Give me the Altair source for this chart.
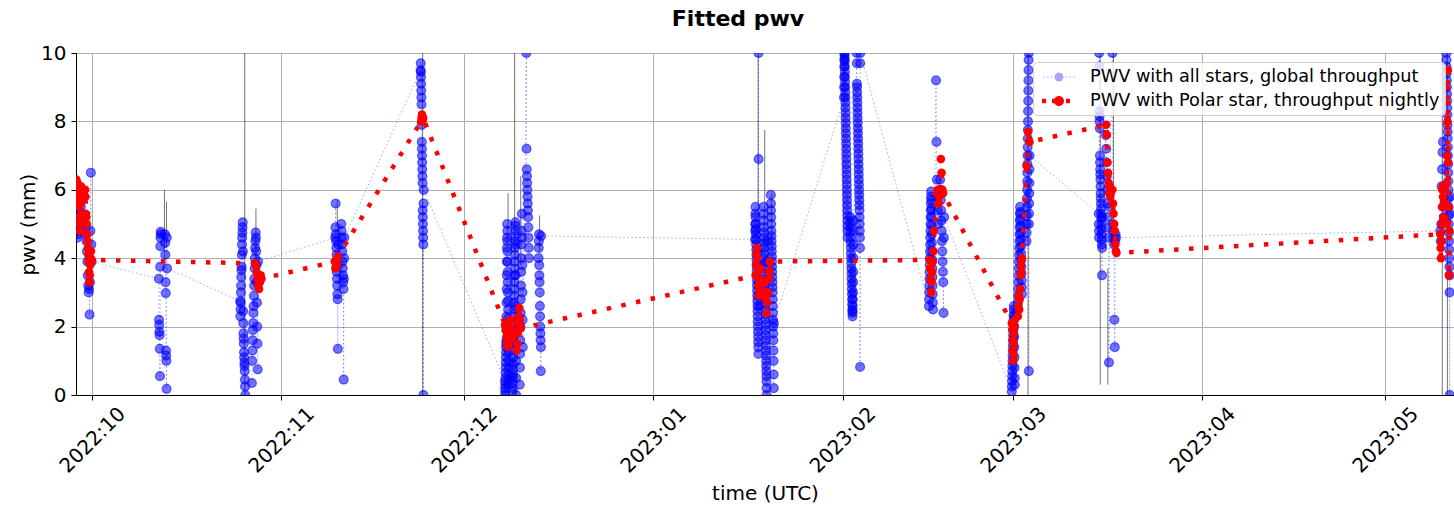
import altair as alt
import pandas as pd

# ---- series labels -------------------------------------------------------
blue_label = "PWV with all stars, global throughput"
red_label = "PWV with Polar star, throughput nightly"

# ---- x-axis months --------------------------------------------------------
month_ticks = [(2022, 10), (2022, 11), (2022, 12), (2023, 1),
               (2023, 2), (2023, 3), (2023, 4), (2023, 5)]

# ---- all stars, global throughput: nightly observing windows (UTC) -------
blue_start = ["2022-09-28T08:00", "2022-09-29T20:00", "2022-10-11T22:00", "2022-10-12T22:00",
              "2022-10-25T06:00", "2022-10-27T04:00", "2022-11-09T20:00", "2022-11-10T20:00",
              "2022-11-23T20:00", "2022-12-07T16:00", "2022-12-08T22:00", "2022-12-10T02:00",
              "2022-12-11T04:00", "2022-12-13T04:00", "2023-01-17T16:00", "2023-01-19T02:00",
              "2023-01-20T06:00", "2023-02-01T06:00", "2023-02-02T06:00", "2023-02-03T08:00",
              "2023-02-15T04:00", "2023-02-16T08:00", "2023-02-17T00:00", "2023-02-28T18:00",
              "2023-03-01T18:00", "2023-03-03T04:00", "2023-03-15T00:00", "2023-03-16T04:00",
              "2023-03-17T06:00", "2023-05-10T00:00", "2023-05-11T00:00"]
blue_end = ["2022-09-29T06:00", "2022-09-30T22:00", "2022-10-12T06:00", "2022-10-13T06:00",
            "2022-10-26T02:00", "2022-10-28T04:00", "2022-11-10T08:00", "2022-11-11T08:00",
            "2022-11-24T08:00", "2022-12-08T08:00", "2022-12-09T12:00", "2022-12-10T14:00",
            "2022-12-11T14:00", "2022-12-13T14:00", "2023-01-18T08:00", "2023-01-19T14:00",
            "2023-01-20T18:00", "2023-02-01T20:00", "2023-02-02T20:00", "2023-02-03T22:00",
            "2023-02-15T20:00", "2023-02-16T16:00", "2023-02-17T16:00", "2023-03-01T06:00",
            "2023-03-02T10:00", "2023-03-03T16:00", "2023-03-15T14:00", "2023-03-16T18:00",
            "2023-03-17T20:00", "2023-05-10T14:00", "2023-05-11T14:00"]

# pwv (mm) per night, in observing order
blue_n01 = [5.5, 5.3, 5.0, 4.8, 4.6, 4.7, 4.9, 5.1, 5.4, 5.6, 5.8, 5.9, 5.7, 5.5, 5.2, 5.0]
blue_n02 = [5.0, 4.9, 4.7, 4.5, 4.2, 3.9, 3.5, 3.2, 3.0, 3.1, 2.35, 3.3, 4.8, 6.5, 4.4, 3.9]
blue_n03 = [3.4, 2.2, 2.05, 1.85, 1.75, 1.35, 0.55, 3.75, 4.35, 4.6, 4.77, 4.7]
blue_n04 = [4.7, 4.45, 4.1, 3.3, 2.98, 1.3, 1.15, 1.0, 0.18, 4.6, 3.7]
blue_n05 = [2.75, 2.3, 2.5, 2.7, 3.0, 3.2, 3.45, 3.65, 3.75, 4.1, 4.4, 4.6, 4.75, 4.9, 5.05,
            4.2, 2.45, 2.1, 1.8, 1.65, 1.5, 1.25, 1.1, 0.95, 0.85, 0.7, 0.45, 0.25, 0.0]
blue_n06 = [0.35, 1.0, 1.3, 1.6, 1.9, 2.1, 2.4, 2.6, 2.9, 3.2, 3.4, 3.7, 4.0, 4.3, 4.5,
            4.75, 4.6, 4.2, 3.8, 3.3, 2.7, 2.0, 1.5, 0.75, 3.9]
blue_n07 = [4.6, 4.9, 5.6, 4.7, 4.5, 4.3, 4.1, 3.6, 3.4, 3.2, 2.95, 2.8, 1.35, 3.8, 4.4]
blue_n08 = [5.0, 4.8, 4.6, 4.4, 4.2, 3.9, 3.7, 3.5, 3.3, 3.1, 0.45, 3.4, 4.0, 4.6]
blue_n09 = [9.5, 9.7, 9.45, 9.3, 9.1, 8.9, 8.7, 8.5, 7.9, 7.4, 7.2, 7.0, 6.8, 6.6, 6.4,
            6.2, 5.4, 5.2, 5.0, 4.8, 4.6, 4.4, 0.0, 5.6, 6.0]
blue_n10 = [0.4, 0.2, 0.0, 0.1, 0.3, 0.5, 0.65, 0.8, 0.95, 1.1, 1.25, 1.4, 1.5, 1.6, 1.9,
            2.3, 2.7, 3.1, 3.5, 3.9, 4.3, 4.6, 5.0, 4.8, 4.5, 4.2, 3.9, 3.6, 3.3, 3.0,
            2.75, 2.5, 2.25, 2.0, 1.75, 1.5, 1.25, 1.0, 0.8, 0.6, 0.45, 0.3]
blue_n11 = [0.1, 0.2, 0.35, 0.5, 0.6, 0.75, 0.9, 1.1, 1.3, 1.5, 1.7, 1.9, 2.1, 2.3, 2.5,
            2.7, 2.9, 3.1, 3.3, 3.5, 3.7, 3.9, 4.1, 4.3, 4.5, 4.65, 4.8, 4.95, 5.05, 4.4,
            3.5, 2.6, 1.8, 1.0, 0.5, 0.0]
blue_n12 = [0.3, 0.8, 1.2, 1.6, 2.0, 2.4, 2.8, 3.2, 3.6, 4.0, 4.4, 4.8, 5.3, 4.6, 3.8,
            3.0, 2.2, 1.4]
blue_n13 = [10.0, 7.2, 6.6, 6.4, 6.2, 6.0, 5.8, 5.6, 5.4, 5.2, 4.9, 4.6, 4.3, 4.0]
blue_n14 = [4.0, 4.3, 4.5, 4.7, 3.8, 3.5, 3.3, 3.0, 2.6, 2.3, 2.0, 1.8, 1.6, 0.7, 1.4, 4.65]
blue_n15 = [4.55, 4.8, 5.0, 5.3, 5.5, 5.2, 5.0, 4.85, 4.7, 4.55, 4.4, 4.25, 4.1, 3.95,
            3.8, 3.65, 3.5, 3.35, 3.2, 3.05, 2.9, 2.75, 2.6, 2.45, 2.3, 2.15, 2.0, 1.85,
            1.7, 1.55, 1.4, 1.2, 10.0, 6.9, 4.2, 3.8, 3.3, 2.9, 2.6]
blue_n16 = [5.5, 5.3, 5.1, 4.9, 4.75, 4.6, 4.45, 4.3, 4.15, 4.0, 3.85, 3.7, 3.55, 3.4,
            3.25, 3.1, 2.95, 2.8, 2.65, 2.5, 2.35, 2.2, 2.05, 1.9, 1.75, 1.6, 1.45, 1.3,
            1.15, 1.0, 0.85, 0.7, 0.55, 0.4, 0.2, 0.0, 4.5, 3.9]
blue_n17 = [5.85, 5.6, 5.4, 5.2, 5.0, 4.8, 4.65, 4.5, 4.35, 4.2, 4.05, 3.9, 3.75, 3.6,
            3.45, 3.3, 3.15, 3.0, 2.8, 2.6, 2.4, 2.2, 2.0, 1.8, 1.6, 1.3, 1.0, 0.6, 0.2, 2.1]
blue_n18 = [8.7, 9.0, 9.3, 9.6, 9.8, 10.0, 9.95, 9.85, 9.75, 9.6, 9.45, 9.3, 9.15, 9.0,
            8.85, 8.7, 8.55, 8.4, 8.25, 8.1, 7.95, 7.8, 7.65, 7.5, 7.35, 7.2, 7.05, 6.9,
            6.75, 6.6, 6.45, 6.3, 6.15, 6.0, 5.85, 5.7, 5.55, 5.4, 5.25, 5.1, 4.95, 4.8, 4.6]
blue_n19 = [5.2, 5.05, 4.9, 4.75, 4.6, 4.45, 4.3, 4.15, 4.0, 3.85, 3.7, 3.55, 3.4, 3.25,
            3.1, 2.95, 2.8, 2.65, 2.5, 2.4, 2.3, 2.45, 2.6, 2.8, 3.0, 3.3, 3.6, 4.0, 4.4,
            4.8, 5.1]
blue_n20 = [10.0, 9.7, 9.1, 9.0, 8.85, 8.7, 8.55, 8.4, 8.25, 8.1, 7.95, 7.8, 7.65, 7.5,
            7.35, 7.2, 7.05, 6.9, 6.75, 6.6, 6.45, 6.3, 6.15, 6.0, 5.85, 5.7, 5.55, 5.4,
            5.2, 5.0, 4.8, 4.6, 4.3, 0.82, 9.7, 10.0]
blue_n21 = [2.6, 2.8, 3.0, 3.2, 3.4, 3.6, 3.8, 4.0, 4.2, 4.4, 4.6, 4.8, 5.0, 5.2, 5.4,
            5.6, 5.8, 5.95, 5.7, 5.45, 5.2, 4.95, 4.7, 4.45, 4.2, 3.95, 3.7, 3.45, 3.2,
            2.95, 2.7, 2.5]
blue_n22 = [9.2, 7.4, 6.3, 5.8, 5.4, 5.0]
blue_n23 = [6.3, 6.0, 5.7, 5.4, 5.1, 4.8, 4.5, 4.2, 3.9, 3.6, 3.3, 2.4, 4.6, 5.2]
blue_n24 = [0.1, 0.25, 0.4, 0.55, 0.7, 0.85, 1.0, 1.15, 1.3, 1.45, 1.6, 1.75, 1.9, 2.05,
            2.2, 2.35, 2.5, 2.6, 2.3, 2.0, 1.7, 1.4, 1.1, 0.8, 0.5, 0.3]
blue_n25 = [2.5, 2.7, 2.9, 3.1, 3.3, 3.5, 3.7, 3.9, 4.1, 4.3, 4.5, 4.7, 4.9, 5.1, 5.3,
            5.5, 5.35, 5.15, 4.95, 4.75, 4.55, 4.35, 4.15, 3.95, 3.75, 3.55, 3.35, 3.15, 2.95]
blue_n26 = [4.5, 4.75, 5.0, 5.25, 5.5, 5.75, 6.0, 6.25, 6.5, 6.75, 7.0, 7.25, 7.5, 7.75,
            8.0, 8.3, 8.6, 8.9, 9.2, 9.5, 9.8, 10.0, 0.7, 5.0, 5.3, 5.6, 5.9, 6.2, 6.6, 7.0]
blue_n27 = [5.3, 5.0, 4.8, 4.6, 10.0, 9.6, 8.3, 8.15, 8.0, 7.8, 7.0, 6.8, 6.6, 6.45, 6.3,
            6.1, 5.9, 5.75, 5.6, 5.45, 5.3, 5.15, 5.0, 4.85, 4.7, 4.55, 4.4, 3.5, 4.3, 5.2]
blue_n28 = [7.6, 7.2, 6.8, 6.4, 6.0, 5.6, 5.2, 4.9, 4.6, 0.95, 5.5]
blue_n29 = [10.0, 5.0, 4.8, 4.6, 4.4, 2.2, 1.4, 4.5, 4.7, 4.6]
blue_n30 = [4.8, 4.5, 5.0, 6.1, 6.6, 7.1, 7.4, 5.5, 5.2]
blue_n31 = [10.0, 9.8, 9.6, 9.4, 9.2, 9.0, 8.8, 8.6, 8.4, 8.2, 7.9, 7.7, 7.5, 7.25, 7.0,
            6.75, 6.5, 6.25, 6.0, 5.75, 5.5, 5.25, 5.0, 4.75, 4.5, 4.25, 4.0, 3.75, 3.5,
            3.0, 0.0, 5.3, 5.8]
blue_nights = [blue_n01, blue_n02, blue_n03, blue_n04, blue_n05, blue_n06, blue_n07,
               blue_n08, blue_n09, blue_n10, blue_n11, blue_n12, blue_n13, blue_n14,
               blue_n15, blue_n16, blue_n17, blue_n18, blue_n19, blue_n20, blue_n21,
               blue_n22, blue_n23, blue_n24, blue_n25, blue_n26, blue_n27, blue_n28,
               blue_n29, blue_n30, blue_n31]

# ---- Polar star, nightly throughput ---------------------------------------
red_start = ["2022-09-28T08:00", "2022-09-29T20:00", "2022-10-27T16:00", "2022-11-09T18:00",
             "2022-11-23T22:00", "2022-12-07T16:00", "2022-12-09T14:00", "2023-01-17T18:00",
             "2023-01-19T06:00", "2023-02-15T06:00", "2023-02-16T12:00", "2023-02-28T18:00",
             "2023-03-01T18:00", "2023-03-03T04:00", "2023-03-16T06:00", "2023-03-17T06:00",
             "2023-05-10T00:00", "2023-05-11T00:00"]
red_end = ["2022-09-29T06:00", "2022-09-30T22:00", "2022-10-28T18:00", "2022-11-10T06:00",
           "2022-11-24T06:00", "2022-12-08T20:00", "2022-12-10T06:00", "2023-01-18T12:00",
           "2023-01-20T02:00", "2023-02-16T00:00", "2023-02-17T12:00", "2023-03-01T06:00",
           "2023-03-02T10:00", "2023-03-03T16:00", "2023-03-17T00:00", "2023-03-17T22:00",
           "2023-05-10T12:00", "2023-05-11T12:00"]
red_n01 = [6.2, 6.3, 6.1, 6.0, 5.9, 6.2, 5.8, 6.0, 5.7, 5.5, 5.2, 5.0, 4.8, 5.2, 5.6, 5.9, 6.1, 6.0]
red_n02 = [6.0, 5.8, 5.3, 5.2, 5.0, 4.7, 4.5, 4.3, 4.1, 3.9, 3.6, 3.3, 3.5, 3.8, 4.0, 4.2, 3.9, 3.95]
red_n03 = [3.85, 3.8, 3.6, 3.4, 3.2, 3.1, 3.3, 3.5, 3.4]
red_n04 = [3.9, 3.7, 3.75, 3.95, 3.8, 4.05]
red_n05 = [8.0, 8.1, 8.2, 8.15, 8.05, 8.1]
red_n06 = [2.05, 1.9, 1.7, 1.5, 1.4, 1.6, 1.8, 2.0, 2.2, 1.9, 1.7]
red_n07 = [1.3, 1.5, 1.8, 2.1, 2.3, 2.55, 2.2, 2.0, 1.95]
red_n08 = [3.5, 3.8, 4.1, 4.3, 4.0, 3.6, 3.2, 2.9, 3.1, 3.4, 3.7]
red_n09 = [3.3, 3.0, 2.8, 2.4, 2.7, 3.0, 3.4, 3.6, 3.9]
red_n10 = [3.95, 3.7, 3.4, 3.0, 3.3, 3.6, 3.9, 4.2, 4.8]
red_n11 = [5.9, 6.0, 5.6, 5.8, 6.0, 6.9, 6.5, 6.0, 5.9]
red_n12 = [2.1, 1.9, 1.6, 1.3, 1.0, 1.2, 1.5, 1.8, 2.0, 2.2]
red_n13 = [2.3, 2.6, 2.9, 2.5, 2.8, 3.1, 3.5, 3.8, 3.6, 4.0]
red_n14 = [6.7, 7.7, 7.4]
red_n15 = [7.9, 7.6, 6.8, 6.5, 6.2, 5.9, 6.1, 5.8, 6.0]
red_n16 = [6.0, 5.6, 5.3, 5.0, 4.8, 4.4, 4.2, 4.15]
red_n17 = [4.7, 4.3, 4.0, 4.5, 5.0, 5.5, 6.0, 6.1, 5.8, 5.2]
red_n18 = [5.0, 6.2, 7.0, 8.0, 9.5, 6.8, 5.5, 3.5, 4.8]
red_nights = [red_n01, red_n02, red_n03, red_n04, red_n05, red_n06, red_n07, red_n08,
              red_n09, red_n10, red_n11, red_n12, red_n13, red_n14, red_n15, red_n16,
              red_n17, red_n18]

# ---- large uncertainties on single all-star fits --------------------------
err_time = ["2022-10-12T20:00", "2022-10-13T04:00", "2022-10-26T00:00", "2022-10-27T20:00",
            "2022-11-10T04:00", "2022-11-24T04:00", "2022-12-08T04:00", "2022-12-09T06:00",
            "2022-12-10T06:00", "2022-12-13T08:00", "2023-01-18T04:00", "2023-01-19T06:00",
            "2023-01-20T10:00", "2023-03-03T10:00", "2023-03-15T06:00", "2023-03-16T12:00",
            "2023-03-17T10:00", "2023-05-10T08:00", "2023-05-11T04:00"]
err_low = [4.0, 4.3, 0.0, 3.6, 4.9, 0.0, 4.5, 0.0, 3.8, 4.2, 4.0, 3.8, 4.2, 0.0, 0.3,
           0.3, 4.4, 0.0, 0.0]
err_high = [6.0, 5.65, 10.0, 5.45, 5.7, 10.0, 5.9, 10.0, 6.4, 5.25, 10.0, 7.75, 5.9,
            10.0, 10.0, 3.7, 10.0, 10.0, 10.0]


def spread_nights(starts, ends, nights, series):
    """One row per exposure, spread evenly over each night's window."""
    rows = []
    for s, e, vals in zip(starts, ends, nights):
        t0, t1 = pd.Timestamp(s), pd.Timestamp(e)
        n = len(vals)
        for i, v in enumerate(vals):
            t = t0 + (t1 - t0) * (i / (n - 1)) if n > 1 else t0
            rows.append({"time": t.strftime("%Y-%m-%dT%H:%M:%SZ"), "pwv": v, "series": series})
    return pd.DataFrame(rows)


blue_df = spread_nights(blue_start, blue_end, blue_nights, blue_label)
red_df = spread_nights(red_start, red_end, red_nights, red_label)
err_df = pd.DataFrame({"time": [t + ":00Z" for t in err_time], "lo": err_low, "hi": err_high})

FONT = "DejaVu Sans"

x_enc = alt.X(
    "time:T",
    scale=alt.Scale(type="utc", domain=[
        alt.DateTime(year=2022, month=9, date=28, hours=8, utc=True),
        alt.DateTime(year=2023, month=5, date=12, hours=6, utc=True)]),
    axis=alt.Axis(
        title="time (UTC)",
        values=[alt.DateTime(year=y, month=m, date=1, utc=True) for y, m in month_ticks],
        format="%Y:%m", labelAngle=-45, labelAlign="center", labelBaseline="middle",
        labelFontSize=20, labelPadding=40, labelFlush=False, labelOverlap=False,
        titleY=98, titleX=689, titleAlign="center", titleBaseline="middle",
    ),
)
y_enc = alt.Y(
    "pwv:Q",
    scale=alt.Scale(domain=[0, 10], nice=False, zero=False),
    axis=alt.Axis(title="pwv (mm)", values=[0, 2, 4, 6, 8, 10], labelFontSize=20,
                  labelPadding=5, titleX=-48, titleY=171, titleAlign="center",
                  titleBaseline="middle", titleAngle=-90),
)

# ---- legend glyphs: dotted line with a marker, drawn as a custom symbol path.
# Symbol size 400 -> one path unit is 10 px; the glyph centre sits 11 px right
# of the nominal symbol centre.
GLYPH_UNIT = 10.0
GLYPH_SHIFT = 11.0


def glyph(dashes, half_height, radius):
    parts = []
    for a, b in dashes:
        x0 = (a + GLYPH_SHIFT) / GLYPH_UNIT
        x1 = (b + GLYPH_SHIFT) / GLYPH_UNIT
        h = half_height / GLYPH_UNIT
        parts.append(f"M{x0:.3f},{-h:.3f}H{x1:.3f}V{h:.3f}H{x0:.3f}Z")
    c = GLYPH_SHIFT / GLYPH_UNIT
    r = radius / GLYPH_UNIT
    parts.append(f"M{c + r:.3f},0A{r:.3f},{r:.3f},0,1,1,{c - r:.3f},0"
                 f"A{r:.3f},{r:.3f},0,1,1,{c + r:.3f},0Z")
    return " ".join(parts)


blue_glyph = glyph([(-16, -14.5), (-12, -10.5), (-8, -6.5), (6.5, 8), (10.5, 12), (14.5, 16)],
                   0.5, 4.5)
red_glyph = glyph([(-17, -13), (-7, -3), (7, 11)], 2.25, 5.0)

legend = alt.Legend(
    title=None, orient="top-right", offset=9, padding=5, rowPadding=5,
    labelFont=FONT, labelFontSize=17.7, labelColor="black", labelOffset=32, labelLimit=500,
    symbolSize=400, symbolStrokeWidth=0,
    fillColor="rgba(255,255,255,0.8)", strokeColor="#cccccc", cornerRadius=4,
)
series_domain = [blue_label, red_label]

errbars = alt.Chart(err_df).mark_rule(color="black", strokeWidth=1, opacity=0.55, clip=True).encode(
    x=x_enc, y=alt.Y("lo:Q", scale=alt.Scale(domain=[0, 10])), y2="hi:Q")
blue_line = alt.Chart(blue_df).mark_line(
    color="blue", strokeWidth=1, strokeDash=[1.5, 2.5], opacity=0.35, clip=True
).encode(x=x_enc, y=y_enc)
# semi-transparent markers whose outline overlaps the fill, giving a darker rim
blue_pts = alt.Chart(blue_df).mark_circle(
    fill="blue", stroke="blue", fillOpacity=0.55, strokeOpacity=0.55, strokeWidth=1.2,
    opacity=1, size=80, clip=True
).encode(x=x_enc, y=y_enc)
red_line = alt.Chart(red_df).mark_line(
    color="red", strokeWidth=4.5, strokeDash=[4.5, 10.5], strokeCap="butt", clip=True
).encode(x=x_enc, y=y_enc)
red_pts = alt.Chart(red_df).mark_circle(color="red", opacity=1, size=72, clip=True).encode(
    x=x_enc, y=y_enc)

# legend-only layer: empty after filtering, entries come from the fixed scale domains
legend_layer = alt.Chart(red_df).transform_filter("datum.pwv < 0").mark_point(
    filled=True, clip=True
).encode(
    x=x_enc, y=y_enc,
    color=alt.Color("series:N", scale=alt.Scale(domain=series_domain, range=["blue", "red"]),
                    legend=legend),
    shape=alt.Shape("series:N", scale=alt.Scale(domain=series_domain,
                                                range=[blue_glyph, red_glyph]), legend=legend),
    opacity=alt.Opacity("series:N", scale=alt.Scale(domain=series_domain, range=[0.35, 1.0]),
                        legend=legend),
)

chart = alt.layer(errbars, blue_line, blue_pts, red_line, red_pts, legend_layer).properties(
    width=1378, height=342,
    autosize=alt.AutoSizeParams(type="none"),
    padding={"left": 76, "top": 53, "right": 0, "bottom": 113},
    title=alt.TitleParams("Fitted pwv", font=FONT, fontSize=22, fontWeight="bold",
                          color="black", anchor="middle", dx=-27, offset=12),
).configure(font=FONT, background="white").configure_axis(
    labelFont=FONT, labelColor="black", titleFont=FONT, titleFontSize=20,
    titleFontWeight="normal", titleColor="black", gridColor="#b0b0b0", gridWidth=1,
    domainColor="black", domainWidth=1, tickColor="black", tickSize=5, tickWidth=1,
).configure_view(stroke="black", strokeWidth=1)

chart.save("out.html", embed_options={"renderer": "svg", "actions": False})
